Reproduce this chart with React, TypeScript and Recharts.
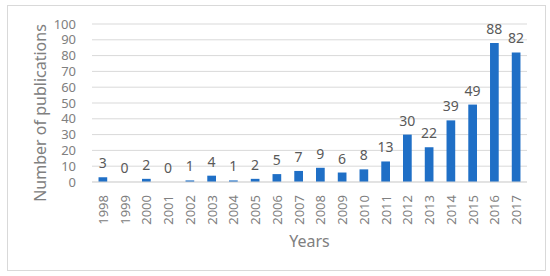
import React from "react";
import { ComposedChart, Bar, Line, XAxis, YAxis, CartesianGrid, LabelList, Label } from "recharts";

const years = ["1998","1999","2000","2001","2002","2003","2004","2005","2006","2007","2008","2009","2010","2011","2012","2013","2014","2015","2016","2017"];
const publications = [3,0,2,0,1,4,1,2,5,7,9,6,8,13,30,22,39,49,88,82];
const yTicks = [0,10,20,30,40,50,60,70,80,90,100];

const data = years.map((y, i) => ({ year: y, value: publications[i] }));

const FONT = "'Noto Sans', 'DejaVu Sans', sans-serif";

const XTick = (props: any) => {
  const { x, y, payload } = props;
  const ty = y + 5;
  return (
    <text
      x={x}
      y={ty}
      transform={`rotate(-90 ${x} ${ty})`}
      textAnchor="end"
      dominantBaseline="central"
      fontSize={13}
      fill="#808080"
      fontFamily={FONT}
    >
      {payload.value}
    </text>
  );
};

const YTitle = (props: any) => {
  const vb = props.viewBox || { x: 32, y: 24, width: 60, height: 158 };
  const cx = 40;
  const cy = vb.y + vb.height / 2 + 10;
  return (
    <text
      x={cx}
      y={cy}
      transform={`rotate(-90 ${cx} ${cy})`}
      textAnchor="middle"
      dominantBaseline="central"
      fontSize={16}
      fill="#808080"
      fontFamily={FONT}
    >
      Number of publications
    </text>
  );
};

export default function App() {
  return (
    <div style={{ position: "absolute", left: 0, top: 0, width: 550, height: 276, background: "#fff" }}>
      <div
        style={{
          position: "absolute",
          left: 7,
          top: 5,
          width: 537,
          height: 264,
          border: "1.5px solid #d9d9d9",
        }}
      />
      <div style={{ position: "absolute", left: 0, top: 0 }}>
        <ComposedChart
          width={550}
          height={276}
          data={data}
          margin={{ top: 24, right: 23, left: 32, bottom: 34 }}
          barCategoryGap="70%"
        >
          <CartesianGrid vertical={false} stroke="#d9d9d9" strokeWidth={1} />
          <XAxis
            dataKey="year"
            axisLine={{ stroke: "#d9d9d9" }}
            tickLine={false}
            interval={0}
            height={60}
            tick={<XTick />}
          >
            <Label
              value="Years"
              position="insideBottom"
              offset={-5}
              style={{ fontSize: 16, fill: "#808080", fontFamily: FONT }}
            />
          </XAxis>
          <YAxis
            width={60}
            domain={[0, 100]}
            ticks={yTicks}
            interval={0}
            axisLine={false}
            tickLine={false}
            tickMargin={10}
            tick={{ fontSize: 13, fill: "#808080", fontFamily: FONT }}
          >
            <Label content={<YTitle />} />
          </YAxis>
          <Bar dataKey="value" fill="#1F6FC6" isAnimationActive={false} />
          <Line
            dataKey="value"
            stroke="none"
            dot={false}
            activeDot={false}
            isAnimationActive={false}
            legendType="none"
          >
            <LabelList
              dataKey="value"
              position="top"
              offset={9}
              style={{ fontSize: 14, fill: "#595959", fontFamily: FONT }}
            />
          </Line>
        </ComposedChart>
      </div>
    </div>
  );
}
